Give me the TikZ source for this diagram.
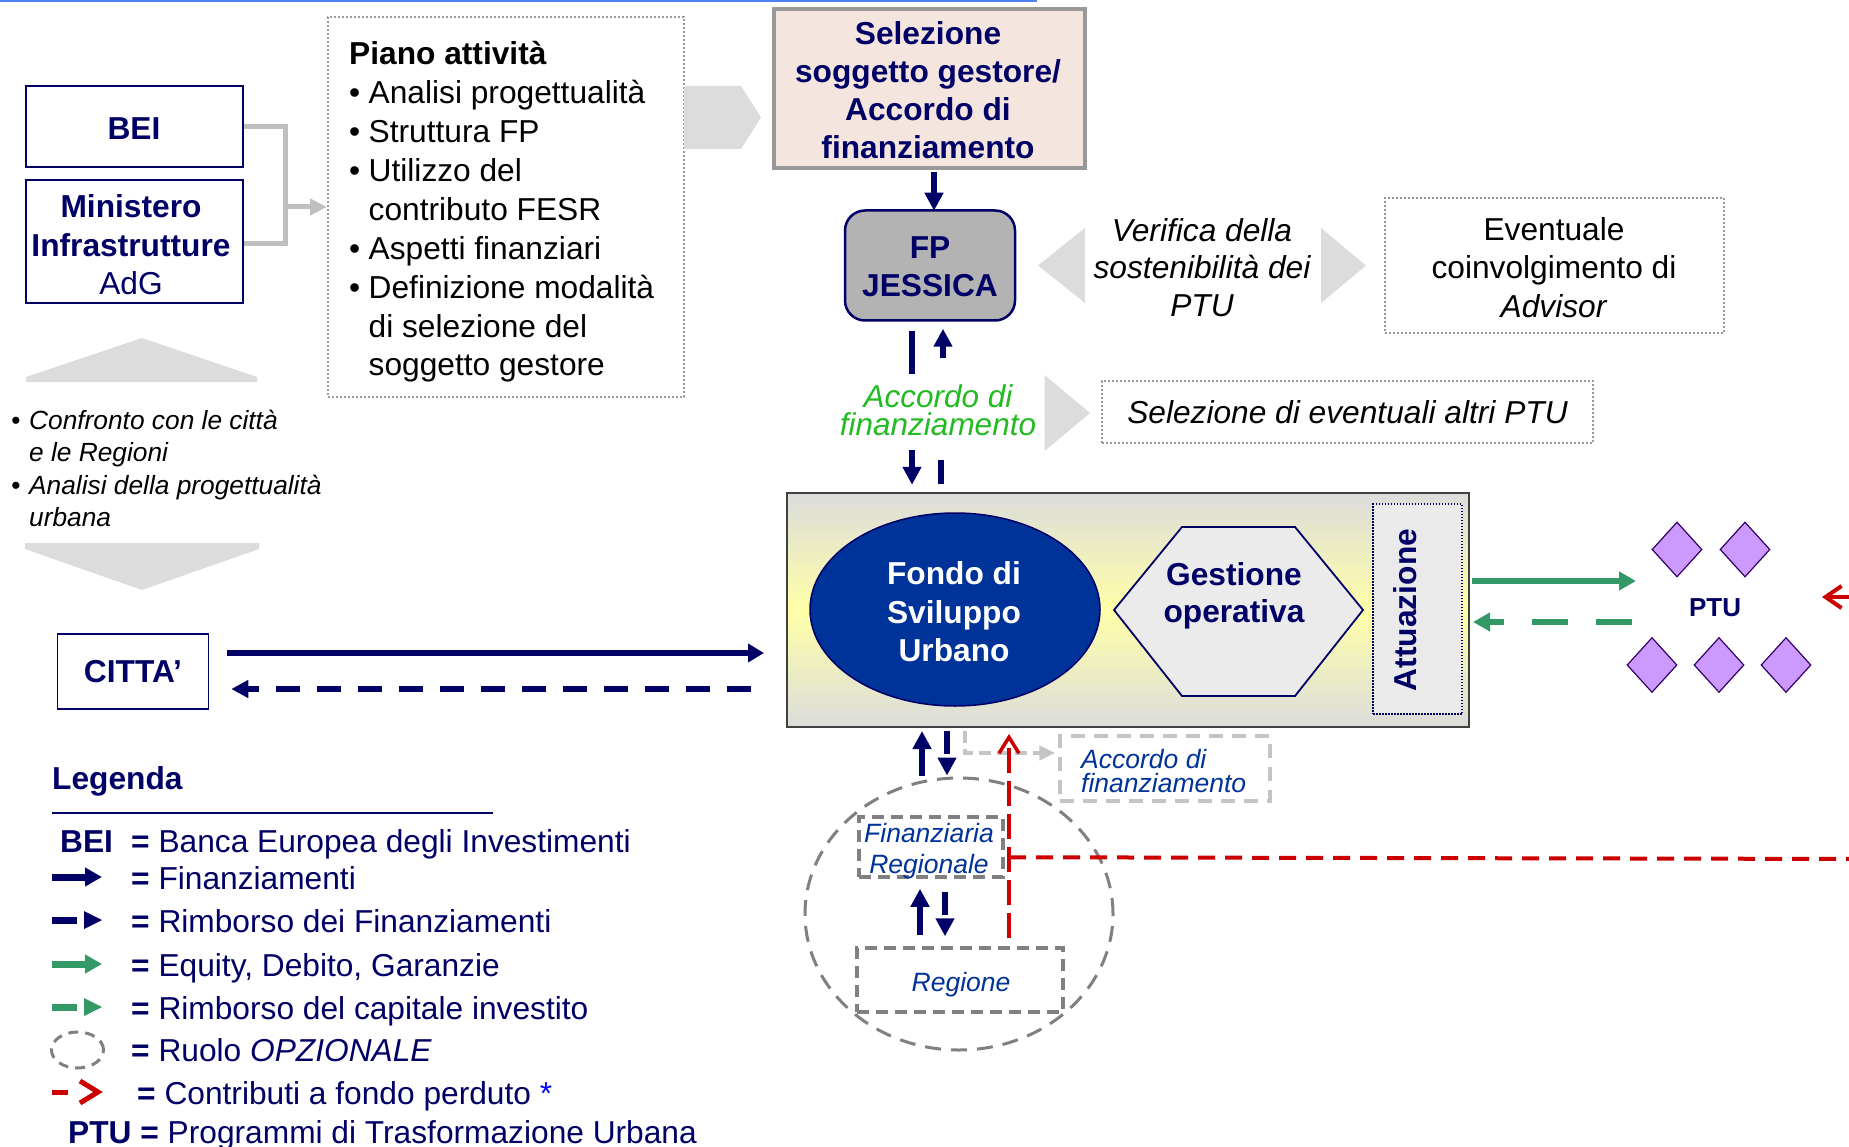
\documentclass[tikz,border=0pt]{standalone}
\usepackage{fontspec}
\setmainfont{Liberation Sans}
\usetikzlibrary{arrows.meta,shapes.geometric,calc}
\definecolor{navy}{HTML}{000066}
\definecolor{blueit}{HTML}{003399}
\definecolor{fondoblue}{HTML}{003399}
\definecolor{greentext}{HTML}{22BB22}
\definecolor{greenarrow}{HTML}{339966}
\definecolor{redarrow}{HTML}{CC0000}
\definecolor{chev}{HTML}{DCDCDC}
\definecolor{pinkfill}{HTML}{F4E6DE}
\definecolor{boxgray}{HTML}{999999}
\definecolor{fpgray}{HTML}{B3B3B3}
\definecolor{lgray}{HTML}{C4C4C4}
\definecolor{dgray}{HTML}{808080}
\definecolor{purp}{HTML}{CC99FF}
\definecolor{purpedge}{HTML}{330066}
\definecolor{topblue}{HTML}{4F81F0}
\definecolor{contgray}{HTML}{DCDCDC}
\definecolor{contyellow}{HTML}{FFFFA8}
\definecolor{brgray}{HTML}{BFBFBF}
\definecolor{hexfill}{HTML}{EBEBEB}
\definecolor{attfill}{HTML}{EAEAEA}
\definecolor{contedge}{HTML}{404040}
\definecolor{asterblue}{HTML}{0000FF}
\newcommand{\myFm}{\fontsize{31.7pt}{38.5pt}\selectfont}
\newcommand{\myFb}{\fontsize{31.7pt}{38.5pt}\selectfont\bfseries}
\newcommand{\myFi}{\fontsize{31.7pt}{37.5pt}\selectfont\itshape}
\newcommand{\myFg}{\fontsize{31.5pt}{28.5pt}\selectfont\itshape}
\newcommand{\myFs}{\fontsize{26.5pt}{31pt}\selectfont\itshape}
\newcommand{\pbul}{\makebox[19.5pt][l]{•}}
\newcommand{\pind}{\hspace*{19.5pt}}
\newcommand{\cbul}{\makebox[16pt][l]{•}}
\newcommand{\cind}{\hspace*{16pt}}
\begin{document}
\begin{tikzpicture}[x=1pt,y=-1pt,
  navybox/.style={draw=navy, line width=1.5pt, fill=white, inner sep=0pt},
  txt/.style={inner sep=0pt, align=center},
  dotbox/.style={draw=boxgray, line width=2pt, dash pattern=on 2pt off 2pt, inner sep=0pt},
  navyar/.style={draw=navy, line width=6pt, -{Triangle[length=18pt,width=18pt]}},
  navybar/.style={draw=navy, line width=6pt},
  navydash/.style={draw=navy, line width=6pt, dash pattern=on 23pt off 30pt, -{Triangle[length=18pt,width=18pt]}},
  navyar2/.style={draw=navy, line width=6pt, -{Triangle[length=16pt,width=18pt]}},
  navydash2/.style={draw=navy, line width=6pt, dash pattern=on 24pt off 17pt, -{Triangle[length=17pt,width=17pt]}},
  greenar/.style={draw=greenarrow, line width=6pt, -{Triangle[length=17pt,width=18pt]}},
  greendash/.style={greenar, dash pattern=on 36pt off 28pt},
  graydashbox/.style={draw=dgray, line width=3.5pt, dash pattern=on 12pt off 7pt, inner sep=0pt},
  reddash/.style={draw=redarrow, line width=4pt, dash pattern=on 17pt off 10pt},
  reddashv/.style={draw=redarrow, line width=3.5pt, dash pattern=on 25pt off 8pt},
  diam/.style={diamond, draw=purpedge, line width=1.2pt, fill=purp, minimum width=50pt, minimum height=55pt, inner sep=0pt},
  lg/.style={anchor=base west, inner sep=0pt, font=\myFm, text=navy}]
\useasboundingbox (0,0) rectangle (1849,1147);
\fill[white] (0,0) rectangle (1849,1147);
\draw[topblue, line width=2pt] (0,1) -- (1037,1);

% ---- left boxes
\node[navybox, minimum width=217pt, minimum height=81pt] (bei) at (134.5,126.5) {};
\node[font=\myFb, text=navy, inner sep=0pt] (beitxt) at (134,129) {BEI};
\node[navybox, minimum width=217pt, minimum height=123pt] (mini) at (134.5,241.5) {};
\node[txt, font=\myFm, text=navy] (minitxt) at (131,245) {\textbf{Ministero}\\\textbf{Infrastrutture}\\AdG};

% ---- piano attivita
\node[dotbox, minimum width=356pt, minimum height=380pt] (piano) at (506,207) {};
\node[txt, align=left, anchor=west, font=\fontsize{31.7pt}{38.9pt}\selectfont] (pianotxt) at (349,212)
 {\textbf{Piano attività}\\\pbul Analisi progettualità\\\pbul Struttura FP\\\pbul Utilizzo del\\\pind contributo FESR\\\pbul Aspetti finanziari\\\pbul Definizione modalità\\\pind di selezione del\\\pind soggetto gestore};

\coordinate (brk) at (285,207);
\draw[brgray, line width=5pt] (bei.east) -- (bei.east -| brk) |- ($(mini.east)+(0,2.5)$);
\draw[brgray, line width=5pt, -{Triangle[length=17pt,width=16pt]}] (brk) -- (piano.west |- brk);

\fill[chev] (684,86) -- (741,86) -- (761,117.5) -- (741,149) -- (684,149) -- cycle;

% ---- selezione
\node[draw=boxgray, line width=4pt, fill=pinkfill, minimum width=311pt, minimum height=159pt, inner sep=0pt] (sel) at (929.5,88.5) {};
\node[txt, font=\fontsize{31.7pt}{38pt}\selectfont\bfseries, text=navy] (seltxt) at (928,90) {Selezione\\soggetto gestore/\\Accordo di\\finanziamento};

% ---- FP JESSICA
\node[draw=navy, line width=2.5pt, fill=fpgray, rounded corners=20pt, minimum width=170pt, minimum height=110pt, inner sep=0pt] (fp) at (930,265.5) {};
\node[txt, font=\myFb, text=navy] (fptxt) at (930,267) {FP\\JESSICA};
\draw[navyar] ($(sel.south)+(4.5,2)$) -- ($(fp.north)+(4,1.5)$);

\node[txt, font=\myFg, text=greentext] (accfp) at (938,410) {Accordo di\\finanziamento};
\draw[navybar] ($(fp.south)+(-18,9)$) -- ($(fp.south)+(-18,52)$);
\draw[navyar] ($(fp.south)+(-18,128)$) -- ($(fp.south)+(-18,163)$);
\draw[navyar] ($(fp.south)+(13,36)$) -- ($(fp.south)+(13,7)$);
\draw[navybar] ($(fp.south)+(11,138)$) -- ($(fp.south)+(11,162)$);

% ---- verifica / advisor
\fill[chev] (1038,265.5) -- (1085,228) -- (1085,303) -- cycle;
\fill[chev] (1366,265.5) -- (1321,228) -- (1321,303) -- cycle;
\node[txt, font=\myFi] (verif) at (1202,267.5) {Verifica della\\sostenibilità dei\\PTU};
\node[dotbox, minimum width=339pt, minimum height=135pt] (adv) at (1554.5,265.5) {};
\node[txt, font=\myFm] (advtxt) at (1554,267.5) {Eventuale\\coinvolgimento di\\\textit{Advisor}};

\fill[chev] (1090,413) -- (1044.5,375) -- (1044.5,451) -- cycle;
\node[dotbox, minimum width=491pt, minimum height=62pt, font=\myFi] (altri) at (1347.5,412) {Selezione di eventuali altri PTU};

% ---- container
\node[draw=contedge, line width=2pt, top color=contgray, bottom color=contgray, middle color=contyellow, minimum width=682pt, minimum height=234pt, inner sep=0pt] (cont) at (1128,610) {};
\node[ellipse, draw=navy, line width=1.5pt, fill=fondoblue, minimum width=290pt, minimum height=193pt, inner sep=0pt] (fsu) at (955,609.5) {};
\node[txt, font=\myFb, text=white] (fsutxt) at (954,612) {Fondo di\\Sviluppo\\Urbano};
\draw[navy, line width=1.8pt, fill=hexfill] (1114,610) -- (1182,527) -- (1295,527) -- (1363,610) -- (1295,696) -- (1182,696) -- cycle;
\node[txt, font=\fontsize{31.7pt}{37pt}\selectfont\bfseries, text=navy] (gest) at (1234,596) {Gestione\\operativa};
\node[draw=navy, line width=1.5pt, dash pattern=on 1.5pt off 1.5pt, fill=attfill, minimum width=89pt, minimum height=210pt, inner sep=0pt] (att) at (1417.5,609) {};
\node[font=\myFb, text=navy, rotate=90, inner sep=0pt] (atttxt) at (1405,610) {Attuazione};

% ---- PTU
\coordinate (gA) at (1636,581);
\coordinate (gB) at (1632,622);
\draw[greenar] ($(cont.east |- gA)+(2,0)$) -- (gA);
\draw[greendash] (gB) -- ($(cont.east |- gB)+(3,0)$);
\node[font=\fontsize{26pt}{30pt}\selectfont\bfseries, text=navy, inner sep=0pt] (ptu) at (1715,608) {PTU};
\node[diam] (d1) at (1677,549.5) {};
\node[diam] (d2) at (1745,549.5) {};
\node[diam] (d3) at (1652,665) {};
\node[diam] (d4) at (1719,665) {};
\node[diam] (d5) at (1786,665) {};
\coordinate (redtip) at (1822,597);
\coordinate (redout) at (1880,597);
\draw[draw=redarrow, line width=4pt, -{Straight Barb[length=16pt,width=22pt]}] (redout) -- (redtip);

% ---- CITTA
\node[navybox, minimum width=151pt, minimum height=75pt, font=\myFb, text=navy] (citta) at (133,671.5) {CITTA’};
\draw[navyar2] ($(citta.east)+(18,-18.5)$) -- ($(cont.west)+(-22,43)$);
\draw[navydash2] ($(cont.west)+(-35,79)$) -- ($(citta.east)+(22,17.5)$);

% ---- left chevrons and text
\fill[chev] (26,382) -- (257,382) -- (257,377) -- (142,338) -- (26,377) -- cycle;
\fill[chev] (25,543) -- (259,543) -- (259,549) -- (142,590) -- (25,549) -- cycle;
\node[txt, align=left, anchor=west, font=\fontsize{26.3pt}{32.3pt}\selectfont\itshape] (confr) at (11,468.5)
 {\makebox[18pt][l]{•}Confronto con le città\\\hspace*{18pt}e le Regioni\\\makebox[18pt][l]{•}Analisi della progettualità\\\hspace*{18pt}urbana};

% ---- bottom part
\node[ellipse, draw=dgray, line width=3pt, dash pattern=on 16pt off 10pt, minimum width=308pt, minimum height=272pt, inner sep=0pt] (opt) at (959,914) {};
\node[graydashbox, minimum width=144pt, minimum height=60pt] (finr) at (931,847) {};
\node[txt, font=\myFs, text=blueit] (finrtxt) at (929,851) {Finanziaria\\Regionale};
\node[graydashbox, minimum width=206pt, minimum height=64pt] (reg) at (960,980) {};
\node[font=\myFs, text=blueit, inner sep=0pt, anchor=base] (regtxt) at (961,991.5) {Regione};
\node[draw=lgray, line width=3.5pt, dash pattern=on 14pt off 9pt, minimum width=210pt, minimum height=65pt, inner sep=0pt] (acc2) at (1165,768.5) {};
\node[txt, align=left, anchor=west, font=\fontsize{26.5pt}{24.5pt}\selectfont\itshape, text=blueit] (acc2txt) at (1081,771) {Accordo di\\finanziamento};

\draw[navyar] ($(opt.north)+(-37,-1)$) -- ($(cont.south)+(-206,3)$);
\draw[navydash] ($(cont.south)+(-181,3)$) -- ($(opt.north)+(-12,-1)$);
\draw[navyar] ($(reg.north)+(-40,-11)$) -- ($(finr.south)+(-11,10)$);
\draw[navydash] ($(finr.south)+(14,13)$) -- ($(reg.north)+(-15,-10)$);
\draw[draw=lgray, line width=4pt, dash pattern=on 12pt off 6pt, -{Triangle[length=16pt,width=14pt]}] ($(cont.south)+(-163,3)$) |- ($(acc2.west)+(-3,-15.5)$);

\coordinate (redfar) at (1870,859);
\draw[reddash] ($(reg.north)+(49,-89)$) -- (redfar);
\draw[reddashv, -{Straight Barb[length=16pt,width=20pt]}] ($(reg.north)+(49,-8)$) -- ($(cont.south)+(-119,6)$);

% ---- legend
\node[anchor=base west, font=\myFb, text=navy, inner sep=0pt] (legt) at (52,789.5) {Legenda};
\draw[navy, line width=2.5pt] ($(legt.base west)+(0,23.5)$) -- ++(441,0);
\node[lg] (l1a) at (60,852.4) {\textbf{BEI}};
\node[lg] (l1b) at (131,852.4) {\textbf{=} Banca Europea degli Investimenti};
\node[lg] (l2) at (131,889.4) {\textbf{=} Finanziamenti};
\node[lg] (l3) at (131,932.4) {\textbf{=} Rimborso dei Finanziamenti};
\node[lg] (l4) at (131,976.4) {\textbf{=} Equity, Debito, Garanzie};
\node[lg] (l5) at (131,1019.4) {\textbf{=} Rimborso del capitale investito};
\node[lg] (l6) at (131,1061.4) {\textbf{=} Ruolo \textit{OPZIONALE}};
\node[lg] (l7) at (137,1104.4) {\textbf{=} Contributi a fondo perduto {\color{asterblue}*}};
\node[lg] (l8) at (68,1143.4) {\textbf{PTU =} Programmi di Trasformazione Urbana};

\draw[navy, line width=7pt, -{Triangle[length=17pt,width=18pt]}] (52,877) -- (102,877);
\draw[navy, line width=7pt] (52,920) -- (77,920);
\fill[navy] (84,911) -- (102,920) -- (84,929) -- cycle;
\draw[greenarrow, line width=7pt, -{Triangle[length=17pt,width=18pt]}] (52,964) -- (102,964);
\draw[greenarrow, line width=7pt] (52,1007) -- (77,1007);
\fill[greenarrow] (84,998) -- (102,1007) -- (84,1016) -- cycle;
\draw[dgray, line width=3pt, dash pattern=on 10pt off 7pt] (77.5,1050) ellipse [x radius=26pt, y radius=18pt];
\draw[redarrow, line width=5pt] (52,1092) -- (68,1092);
\draw[redarrow, line width=5pt, miter limit=10] (80,1081) -- (98,1092) -- (80,1103);
\end{tikzpicture}
\end{document}
